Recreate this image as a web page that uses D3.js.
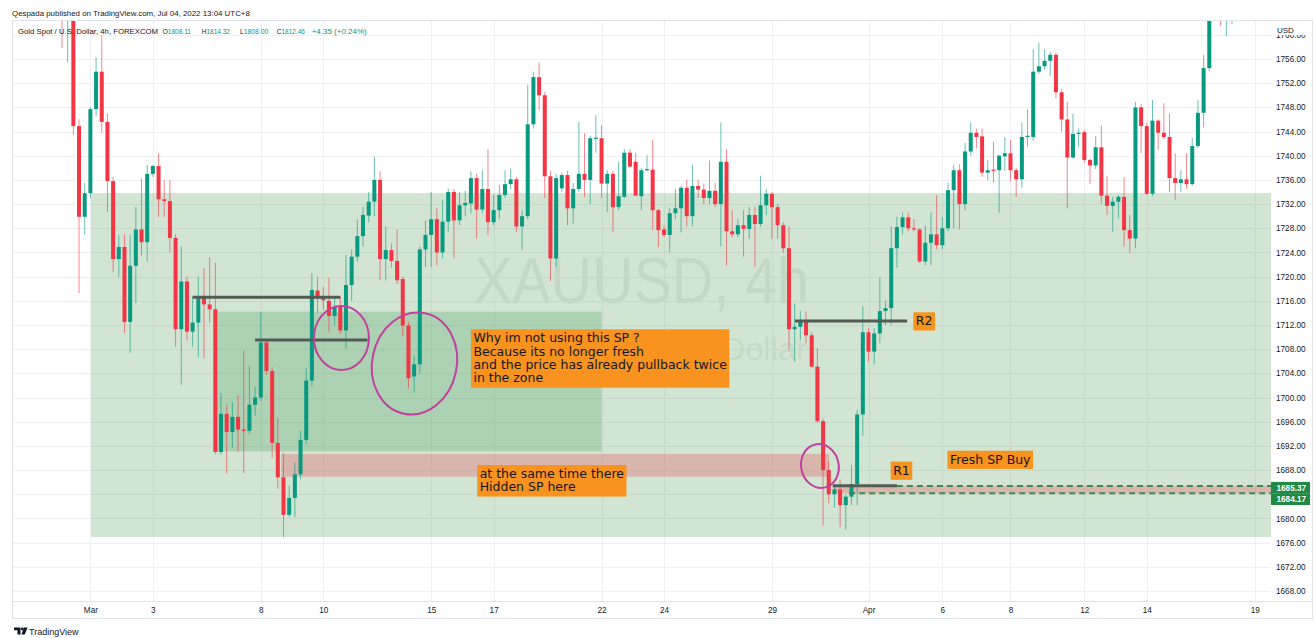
<!DOCTYPE html>
<html><head><meta charset="utf-8">
<script src="https://cdn.jsdelivr.net/npm/d3@7"></script>
<style>body{margin:0;background:#fff;}svg{display:block;}</style>
</head><body>
<svg id="c" width="1315" height="638"></svg>
<script>
// ---------- DATA ----------
const openP = [1768,1763,1770,1744.9,1729.9,1733.8,1747.7,1753.9,1745.6,1735.8,1722.9,1724.9,1712.5,1721.8,1727.8,1725.7,1737,1738.3,1732.8,1732.5,
1726.4,1711.3,1719.2,1710.9,1712.4,1716.7,1715.4,1714.6,1691,1697.3,1694.3,1696.8,1694.7,1694.5,1698.8,1700,1709.1,1704.4,1692.5,1686.8,
1680.6,1683.4,1687.3,1693,1702.8,1717.7,1716.4,1716,1713.5,1715,1711.1,1718.6,1723.3,1726.7,1730.1,1732.4,1736,1722.9,1724.4,1722.6,
1719.6,1711.9,1703.5,1705.5,1724.5,1726.9,1729.5,1724,1729.1,1734,1729.3,1731.8,1732.1,1736.3,1731.1,1734.5,1729,1731,1733.5,1735.3,
1736.1,1728.3,1730,1745.2,1753,1750,1736.6,1723,1734.6,1736.8,1731.3,1734.5,1737,1736,1742.8,1742.9,1735.4,1737,1731.5,1733.2,
1740.5,1739,1733.3,1737.6,1737.7,1731,1727.8,1726.9,1730.5,1731.3,1734.7,1730,1735,1734.4,1733,1734.2,1732,1739,1727.5,1727,
1728.5,1727.9,1730.2,1728.7,1731.8,1733.7,1731.5,1728.5,1724.7,1711.3,1711.7,1712.6,1710.3,1705.1,1696.1,1688,1684,1684.8,1682.2,1683.6,
1685.7,1697.2,1710.8,1707.6,1710.6,1714.3,1714.8,1724.7,1728.2,1729.8,1728,1727.8,1722.5,1725.6,1727,1725.2,1728,1734.3,1737.6,1732,
1740.7,1743.8,1743.2,1737.2,1737.7,1737.6,1739.9,1740.4,1737.6,1736.1,1743.1,1743.1,1753.9,1754.8,1755.7,1756.7,1750.5,1746,1739.7,1743.6,
1743.9,1739.3,1738.4,1741.4,1733.4,1731.7,1732.4,1733.2,1727.7,1726.3,1748,1744.9,1733.7,1745.8,1743.8,1743.1,1736.3,1735.5,1736.1,1735.3,
1741.6,1747.1,1754.5,1768,1766,1762.5,1766];
const highP = [1771,1774,1772,1746,1735.5,1748,1756.3,1760,1747,1736.5,1726.9,1727,1726.9,1731.5,1736.3,1738.5,1738.5,1740.4,1736,1736,
1727,1725,1720,1716.7,1720,1721.4,1723.2,1722.3,1700.7,1698.8,1699.3,1700.4,1707.7,1705.2,1701.8,1714.2,1709.5,1705,1696.6,1690.8,
1685.4,1689.2,1694.5,1704.9,1720.6,1720,1718.3,1719.8,1716.7,1716.7,1723.6,1724.5,1729.5,1731.5,1734,1739.8,1737.4,1728.3,1725.5,1727.8,
1720,1712.5,1707,1725,1729.3,1734,1731.3,1732.7,1734.6,1734.5,1734,1734.2,1737.4,1737,1737.6,1741.1,1733.5,1735.2,1737.6,1737.9,
1736.5,1731,1751.7,1753.9,1755.4,1750.5,1737.5,1737,1737.1,1737.5,1735.5,1745.6,1743.7,1743.3,1746.7,1745.1,1737.6,1737.5,1739,1741.1,
1741.1,1740.5,1738,1740.1,1742.6,1731.2,1728.5,1731.3,1734.5,1735,1736.1,1738.5,1736,1735.4,1739.2,1735.5,1745.5,1741.1,1731,1729.5,
1731,1731.5,1731.5,1736.7,1734.5,1734,1732,1729,1728.3,1715.6,1714.3,1714.2,1710.8,1708.2,1696.5,1689.5,1685.5,1686.4,1684,1688.8,
1698,1715.1,1711.5,1711.5,1719.9,1716,1728.3,1729.9,1730.6,1730.6,1729.5,1728,1728.5,1730.6,1733.5,1729.8,1735.5,1738.5,1738.6,1742.1,
1745.5,1744.5,1744.5,1739.3,1742.3,1740.2,1743.1,1742.6,1738,1745.5,1747.7,1757.6,1758.7,1757.6,1757.2,1757,1751,1748.9,1746.9,1744.5,
1744.3,1739.5,1743.2,1745,1736.6,1733.2,1733.5,1736.4,1730.2,1748.9,1748.5,1745.5,1749.2,1746,1748.7,1747,1740.4,1737.6,1740.4,1743,
1749.2,1756.7,1772,1776,1770,1768,1770];
const lowP = [1757.8,1755.5,1743.5,1717.3,1726.9,1733,1746.5,1743.8,1730.7,1720.8,1720,1710.7,1707.4,1715.6,1723.5,1722.5,1736.5,1729.9,1729.9,1724,
1708.4,1702.1,1709.5,1708.4,1706.7,1706.5,1712.4,1690.6,1690.6,1687.5,1691.7,1691,1687.5,1694,1697,1699.5,1703.8,1690,1684.9,1676.9,
1680.3,1680.2,1686.5,1692.3,1701.8,1714,1714.5,1710.9,1712,1710.5,1708.1,1716,1722.5,1725,1729,1730,1719.4,1719.4,1721.5,1718.8,
1710.1,1701.5,1700.8,1704,1721.6,1721.6,1721.9,1723,1727.4,1723,1728.5,1730,1730.5,1726.3,1730.5,1726.9,1728.5,1729.5,1733,1734.5,
1727.4,1724.4,1729.5,1744.5,1747.6,1733,1719.3,1721.6,1734,1728.5,1728.8,1734,1733.2,1732,1740.5,1733,1730.7,1727.4,1731,1733,
1738,1733.3,1731,1737.4,1727.7,1724.9,1726.5,1724,1729.5,1727.3,1728.3,1728.3,1733,1732,1732,1731.5,1725,1721.8,1726.5,1726.5,
1723.3,1726.3,1721.6,1728.3,1730.2,1726.3,1726.3,1723.9,1707.9,1705.9,1709.5,1709,1705,1695.8,1678.9,1682.5,1681.8,1678.6,1678.2,1682.2,
1682.2,1693.7,1705.9,1705.5,1709,1712,1712,1721.5,1727,1727.5,1727.5,1722.3,1721.9,1721.9,1724.5,1724.5,1727.5,1728,1727.8,1731,
1740,1741.2,1736.5,1735.9,1735.5,1730.6,1737.5,1735.7,1733.2,1734.7,1741.5,1742.5,1753.5,1754.2,1753.2,1749.5,1744,1731.3,1739.5,1741.4,
1738.8,1735.3,1737.8,1732.1,1730.2,1727.4,1729.6,1725,1723.9,1724.7,1740.4,1733.5,1733.3,1741,1742.8,1734,1732.7,1734,1734.5,1735,
1741.3,1744.7,1754,1765,1761.5,1759.8,1761.8];
const closeP = [1763,1770,1744.9,1729.9,1733.8,1747.7,1753.9,1745.6,1735.8,1722.9,1724.9,1712.5,1721.8,1727.8,1725.7,1737,1738.3,1732.8,1732.5,1726.4,
1711.3,1719.2,1710.9,1712.4,1716.7,1715.4,1714.6,1691,1697.3,1694.3,1696.8,1694.7,1694.5,1698.8,1700,1709.1,1704.4,1692.5,1686.8,1680.6,
1683.4,1687.3,1693,1702.8,1717.8,1716.4,1716.1,1713.5,1715,1711.1,1718.6,1723.3,1726.7,1730.2,1732.4,1736,1722.9,1724.4,1722.6,1719.4,
1711.9,1703.2,1705.5,1724.5,1726.9,1729.5,1724,1729.1,1734,1729.3,1731.8,1732.2,1736.3,1731.1,1734.5,1729,1731,1733.5,1735.3,1736.1,
1728.3,1730,1745.2,1753,1750,1736.6,1723,1736.3,1736.8,1731.3,1734.5,1737,1736,1742.9,1743,1735.4,1737,1731.5,1733.3,1740.5,
1738.2,1733.4,1737.6,1737.8,1731,1727.7,1726.9,1730.5,1731.3,1734.7,1730,1735,1734.4,1733,1734.2,1732,1739,1727.5,1727,1728.5,
1727.9,1730.2,1728.7,1731.8,1733.7,1731.5,1728.5,1724.7,1711.3,1711.7,1712.7,1710.3,1705.1,1696.1,1688,1684,1684.8,1682.2,1683.6,1685.7,
1697.2,1710.8,1707.6,1710.6,1714.3,1714.8,1724.7,1728.2,1729.8,1728,1727.8,1722.5,1725.6,1727,1725.2,1728,1734.3,1737.6,1732,1740.7,
1743.8,1743.1,1737.2,1737.6,1737.5,1740,1740.4,1737.6,1736.1,1743.1,1743.3,1753.9,1754.8,1755.7,1756.7,1750.5,1746,1739.7,1743.6,1743.8,
1739.3,1738.4,1741.4,1733.4,1731.7,1732.4,1733.2,1727.7,1726.3,1748,1744.9,1733.7,1745.8,1743.8,1743.1,1736.3,1735.5,1736.1,1735.3,1741.6,
1747.1,1754.5,1768,1772,1762.5,1766,1768];

const priceTicks = [1668,1672,1676,1680,1684,1688,1692,1696,1700,1704,1708,1712,1716,1720,1724,1728,1732,1736,1740,1744,1748,1752,1756,1760];
const timeTickBars = [6,17,36,47,66,77,96,107,126,143,156,168,181,192,211];
const timeTickLabels = ["Mar","3","8","10","15","17","22","24","29","Apr","6","8","12","14","19"];

// zones: [barStart, barEnd, priceTop, priceBottom]
const demandZone = [6.1, 214, 1733.83, 1676.93];
const oldSP = [28.2, 96, 1714.2, 1691.1];
const hiddenSP = [39.6, 136.05, 1690.66, 1686.9];
const freshSP = [136.7, 214, 1685.37, 1684.17];
// solid level lines: [barStart, barEnd, price]
const levels = [[24, 50, 1716.6],[35, 54.8, 1709.5],[130.05, 149.8, 1712.66],[136.7, 148, 1685.4]];
// dashed lines: [barStart, price]
const dashed = [[148, 1685.37],[139.6, 1684.17]];
// ellipses: [centerBar, centerPrice, halfWidthBars, halfHeightPrice, rotationDeg]
const ellipses = [[50.2, 1709.85, 4.84, 5.29, 0],[63.06, 1705.63, 7.45, 8.5, 12],[134.45, 1688.67, 3.3, 3.65, -12]];
// notes: anchor bar, anchor price, lines
const notes = [
  {b:73.0, p:1711.29, lines:["Why im not using this SP ?","Because its no longer fresh","and the price has already pullback twice","in the zone"]},
  {b:74.1, p:1688.84, lines:["at the same time there","Hidden SP here"]},
  {b:150.9, p:1714.1, lines:["R2"]},
  {b:146.9, p:1689.4, lines:["R1"]},
  {b:156.9, p:1691.2, lines:["Fresh SP Buy"]}
];
const lineLabels = [1685.37, 1684.17];
const legendTitle = 'Gold Spot / U.S. Dollar, 4h, FOREXCOM';
const legendKeys = ['O','H','L','C'];
const legendVals = ['1808.11','1814.32','1808.00','1812.46'];
const legendChange = '+4.35 (+0.24%)';

// ---------- DRAW ----------
const W = 1315, H = 638;
const pane = {l:12, t:20, r:1271, b:601};
const x = d3.scaleLinear().domain([1, 207]).range([62, 1232]);
const y = d3.scaleLinear().domain([1668, 1756]).range([591, 59]);
const UP = '#089981', DOWN = '#f23645';
const FONT = 'Liberation Sans, Arial, sans-serif';

const svg = d3.select('#c');
svg.append('rect').attr('width', W).attr('height', H).attr('fill', '#fff');
svg.append('defs').append('clipPath').attr('id','pc').append('rect')
  .attr('x', pane.l).attr('y', pane.t).attr('width', pane.r - pane.l).attr('height', pane.b - pane.t);

const P = svg.append('g').attr('clip-path', 'url(#pc)');

// watermark
const wmX = (pane.l + pane.r) / 2;
P.append('text').attr('x', wmX).attr('y', 303).attr('text-anchor','middle')
  .attr('font-family', FONT).attr('font-size', 65)
  .attr('textLength', 335).attr('lengthAdjust','spacingAndGlyphs')
  .attr('fill','rgba(19,23,34,0.07)').text('XAUUSD, 4h');
P.append('text').attr('x', wmX).attr('y', 360).attr('text-anchor','middle')
  .attr('font-family', FONT).attr('font-size', 31)
  .attr('textLength', 331).attr('lengthAdjust','spacingAndGlyphs')
  .attr('fill','rgba(19,23,34,0.07)').text('Gold Spot / U.S. Dollar');

// grid
P.append('g').selectAll('line').data(priceTicks).join('line')
  .attr('x1', pane.l).attr('x2', pane.r)
  .attr('y1', d => Math.round(y(d)) + 0.5).attr('y2', d => Math.round(y(d)) + 0.5)
  .attr('stroke', '#eef0f4');
P.append('g').selectAll('line').data(timeTickBars).join('line')
  .attr('y1', pane.t).attr('y2', pane.b)
  .attr('x1', d => Math.round(x(d)) + 0.5).attr('x2', d => Math.round(x(d)) + 0.5)
  .attr('stroke', '#eef0f4');

function zoneRect(z, fill){
  P.append('rect').attr('x', x(z[0])).attr('y', y(z[2]))
    .attr('width', Math.min(x(z[1]), pane.r) - x(z[0])).attr('height', y(z[3]) - y(z[2]))
    .attr('fill', fill);
}
zoneRect(demandZone, 'rgba(56,142,60,0.23)');
zoneRect(oldSP, 'rgba(46,140,70,0.22)');
zoneRect(hiddenSP, 'rgba(242,54,69,0.27)');
zoneRect(freshSP, 'rgba(242,54,69,0.27)');

// candles
const bars = openP.map((o, k) => ({b: k + 1, o, h: highP[k], l: lowP[k], c: closeP[k]}));
const cg = P.append('g');
cg.selectAll('line').data(bars).join('line')
  .attr('x1', d => x(d.b)).attr('x2', d => x(d.b))
  .attr('y1', d => y(d.h)).attr('y2', d => y(d.l))
  .attr('stroke', d => d.c >= d.o ? UP : DOWN).attr('stroke-opacity', 0.6).attr('stroke-width', 1);
cg.selectAll('rect').data(bars).join('rect')
  .attr('x', d => x(d.b) - 2).attr('width', 4)
  .attr('y', d => y(Math.max(d.o, d.c)))
  .attr('height', d => Math.max(1, Math.abs(y(d.o) - y(d.c))))
  .attr('fill', d => d.c >= d.o ? UP : DOWN);

// level lines
P.append('g').selectAll('line').data(levels).join('line')
  .attr('x1', d => x(d[0])).attr('x2', d => x(d[1]))
  .attr('y1', d => y(d[2])).attr('y2', d => y(d[2]))
  .attr('stroke', '#535b55').attr('stroke-width', 3);
P.append('g').selectAll('line').data(dashed).join('line')
  .attr('x1', d => x(d[0])).attr('x2', pane.r)
  .attr('y1', d => y(d[1])).attr('y2', d => y(d[1]))
  .attr('stroke', '#3d8b4f').attr('stroke-width', 2).attr('stroke-dasharray', '6,4');

// ellipses
P.append('g').selectAll('ellipse').data(ellipses).join('ellipse')
  .attr('cx', 0).attr('cy', 0)
  .attr('rx', d => x(d[0] + d[2]) - x(d[0])).attr('ry', d => y(d[1] - d[3]) - y(d[1]))
  .attr('transform', d => `translate(${x(d[0])},${y(d[1])}) rotate(${d[4]})`)
  .attr('fill', 'none').attr('stroke', '#c2409e').attr('stroke-width', 2);

// notes
const LH = 13.4;
notes.forEach(n => {
  const gx = x(n.b), gy = y(n.p);
  const g = P.append('g');
  const r = g.append('rect');
  const t = g.append('text').attr('font-family', 'DejaVu Sans, sans-serif')
    .attr('font-size', 12.5).attr('fill', '#131722');
  n.lines.forEach((s, k) => t.append('tspan').attr('x', gx + 2.5).attr('y', gy + 13 + k * LH).text(s));
  const w = d3.max(t.selectAll('tspan').nodes(), nd => nd.getComputedTextLength());
  r.attr('x', gx).attr('y', gy).attr('width', w + 5).attr('height', n.lines.length * LH + 4.8)
    .attr('fill', '#f7931e');
});

// axes
const yAxis = d3.axisRight(y).tickValues(priceTicks).tickFormat(d => d.toFixed(2)).tickSize(0).tickPadding(5);
const ya = svg.append('g').attr('transform', `translate(${pane.r},0)`).call(yAxis);
ya.select('.domain').remove();
ya.selectAll('text').attr('font-family', FONT).attr('font-size', 8.2).attr('fill', '#131722');

const xAxis = d3.axisBottom(x).tickValues(timeTickBars).tickFormat((d, k) => timeTickLabels[k]).tickSize(0).tickPadding(6);
const xa = svg.append('g').attr('transform', `translate(0,${pane.b})`).call(xAxis);
xa.select('.domain').remove();
xa.selectAll('text').attr('font-family', FONT).attr('font-size', 8.2).attr('fill', '#131722');

// USD label covering the clipped top label
svg.append('rect').attr('x', pane.r + 1).attr('y', 21).attr('width', 40).attr('height', 14).attr('fill', '#fff');
svg.append('text').attr('x', 1277).attr('y', 33).attr('font-family', FONT)
  .attr('font-size', 8).attr('fill', '#131722').text('USD');

// line price labels
const ll = svg.append('g');
const labY = [487.7, 499.2];
lineLabels.forEach((v, k) => {
  ll.append('rect').attr('x', pane.r).attr('y', labY[k] - 5.8).attr('width', 39).attr('height', 11.6).attr('fill', '#1f8a44');
  ll.append('text').attr('x', 1276.5).attr('y', labY[k] + 3).attr('font-family', FONT)
    .attr('font-size', 8.2).attr('font-weight', 'bold').attr('fill', '#fff').text(v.toFixed(2));
});

// frame
svg.append('line').attr('x1', pane.l).attr('x2', 1313).attr('y1', pane.b + 0.5).attr('y2', pane.b + 0.5).attr('stroke', '#e0e3eb');
svg.append('rect').attr('x', 12.5).attr('y', 20.5).attr('width', 1300).attr('height', 598).attr('fill', 'none').attr('stroke', '#e0e3eb');

// header
svg.append('text').attr('x', 12).attr('y', 16).attr('font-family', FONT)
  .attr('font-size', 7.9).attr('fill', '#131722').text('Qespada published on TradingView.com, Jul 04, 2022 13:04 UTC+8');

const lg = svg.append('g').attr('font-family', FONT).attr('font-size', 7.8);
lg.append('text').attr('x', 18).attr('y', 34).attr('fill', '#131722')
  .attr('textLength', 140).attr('lengthAdjust', 'spacingAndGlyphs').text(legendTitle);
const keyX = [162.7, 201.7, 240, 276.7];
legendKeys.forEach((k, j) => {
  const t = lg.append('text').attr('x', keyX[j]).attr('y', 34).attr('textLength', 28.3).attr('lengthAdjust', 'spacingAndGlyphs');
  t.append('tspan').attr('fill', '#131722').text(k);
  t.append('tspan').attr('fill', UP).text(legendVals[j]);
});
lg.append('text').attr('x', 311.7).attr('y', 34).attr('fill', UP)
  .attr('textLength', 55).attr('lengthAdjust', 'spacingAndGlyphs').text(legendChange);

// logo
const logo = svg.append('g').attr('fill', '#131722');
logo.append('path').attr('d', 'M14,627.5 h6.5 v7 h-3 v-4.2 h-3.5 z');
logo.append('circle').attr('cx', 22.3).attr('cy', 629).attr('r', 1.4);
logo.append('path').attr('d', 'M24,627.5 h3.6 l-2.8,7 h-3.4 z');
svg.append('text').attr('x', 29).attr('y', 634.5).attr('font-family', FONT)
  .attr('font-size', 9).attr('fill', '#131722').text('TradingView');
</script>
</body></html>
